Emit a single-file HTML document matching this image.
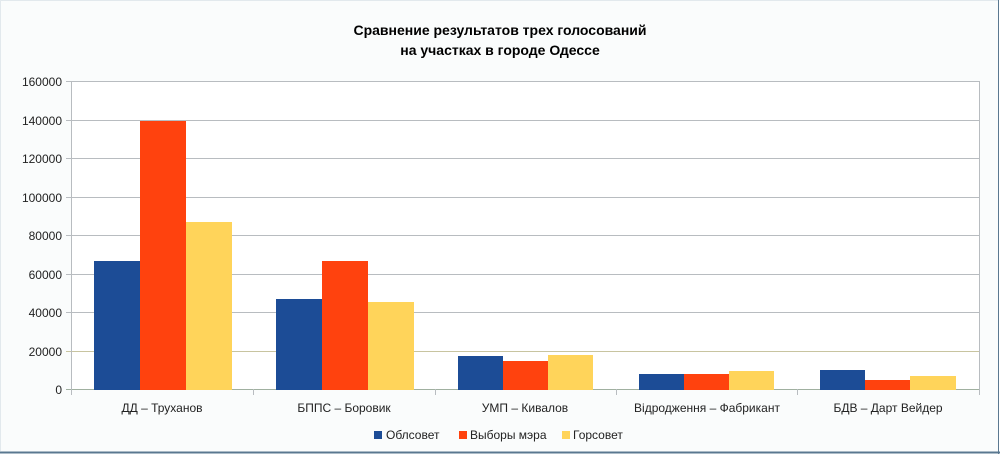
<!DOCTYPE html>
<html><head><meta charset="utf-8"><style>
body{margin:0;background:#fff}
svg{display:block;font-family:"Liberation Sans","DejaVu Sans",sans-serif}
</style></head><body>
<svg width="1000" height="454" viewBox="0 0 1000 454">
<rect x="0.5" y="0.5" width="998" height="452" fill="#fafcfc" stroke="#c8d4dc" stroke-dasharray="1,1"/>
<line x1="0" y1="452.5" x2="1000" y2="452.5" stroke="#5a7890" stroke-width="2"/>
<line x1="998.5" y1="0" x2="998.5" y2="454" stroke="#5a7890" stroke-width="1"/>
<text x="500" y="35" text-anchor="middle" font-size="14" font-weight="bold" fill="#000">Сравнение результатов трех голосований</text>
<text x="500" y="55" text-anchor="middle" font-size="14" font-weight="bold" fill="#000">на участках в городе Одессе</text>
<rect x="71" y="81" width="908" height="309" fill="#fff"/>
<g stroke="#b8bcc0" stroke-width="1">
<line x1="66" y1="81.5" x2="979" y2="81.5"/>
<line x1="66" y1="120.5" x2="979" y2="120.5"/>
<line x1="66" y1="158.5" x2="979" y2="158.5"/>
<line x1="66" y1="197.5" x2="979" y2="197.5"/>
<line x1="66" y1="235.5" x2="979" y2="235.5"/>
<line x1="66" y1="274.5" x2="979" y2="274.5"/>
<line x1="66" y1="312.5" x2="979" y2="312.5"/>
<line x1="66" y1="351.5" x2="979" y2="351.5" stroke="#c8c4a0"/>
<line x1="66" y1="389.5" x2="979" y2="389.5" stroke="#a0b0a0"/>
<line x1="71.5" y1="81" x2="71.5" y2="395"/>
<line x1="979.5" y1="81" x2="979.5" y2="395"/>
<line x1="253.5" y1="389" x2="253.5" y2="395"/>
<line x1="435.5" y1="389" x2="435.5" y2="395"/>
<line x1="616.5" y1="389" x2="616.5" y2="395"/>
<line x1="797.5" y1="389" x2="797.5" y2="395"/>
</g>
<g font-size="12" fill="#222" text-anchor="end">
<text x="62" y="86">160000</text><text x="62" y="125">140000</text><text x="62" y="163">120000</text>
<text x="62" y="202">100000</text><text x="62" y="240">80000</text><text x="62" y="279">60000</text>
<text x="62" y="317">40000</text><text x="62" y="356">20000</text><text x="62" y="394">0</text>
</g>
<g>
<rect x="94" y="261" width="46" height="129" fill="#1c4c96"/>
<rect x="140" y="121" width="46" height="269" fill="#ff420e"/>
<rect x="186" y="222" width="46" height="168" fill="#ffd45a"/>
<rect x="276" y="299" width="46" height="91" fill="#1c4c96"/>
<rect x="322" y="261" width="46" height="129" fill="#ff420e"/>
<rect x="368" y="302" width="46" height="88" fill="#ffd45a"/>
<rect x="458" y="356" width="45" height="34" fill="#1c4c96"/>
<rect x="503" y="361" width="45" height="29" fill="#ff420e"/>
<rect x="548" y="355" width="45" height="35" fill="#ffd45a"/>
<rect x="639" y="374" width="45" height="16" fill="#1c4c96"/>
<rect x="684" y="374" width="45" height="16" fill="#ff420e"/>
<rect x="729" y="371" width="45" height="19" fill="#ffd45a"/>
<rect x="820" y="370" width="45" height="20" fill="#1c4c96"/>
<rect x="865" y="380" width="45" height="10" fill="#ff420e"/>
<rect x="910" y="376" width="46" height="14" fill="#ffd45a"/>
</g>
<g font-size="12" fill="#222" text-anchor="middle">
<text x="162" y="412">ДД – Труханов</text>
<text x="344" y="412">БППС – Боровик</text>
<text x="525" y="412">УМП – Кивалов</text>
<text x="707" y="412">Відродження – Фабрикант</text>
<text x="888" y="412">БДВ – Дарт Вейдер</text>
</g>
<g font-size="12" fill="#222">
<rect x="374" y="431" width="8" height="8" fill="#1c4c96"/><text x="386" y="439">Облсовет</text>
<rect x="459" y="431" width="8" height="8" fill="#ff420e"/><text x="470" y="439">Выборы мэра</text>
<rect x="562" y="431" width="8" height="8" fill="#ffd45a"/><text x="573" y="439">Горсовет</text>
</g>
</svg>
</body></html>
